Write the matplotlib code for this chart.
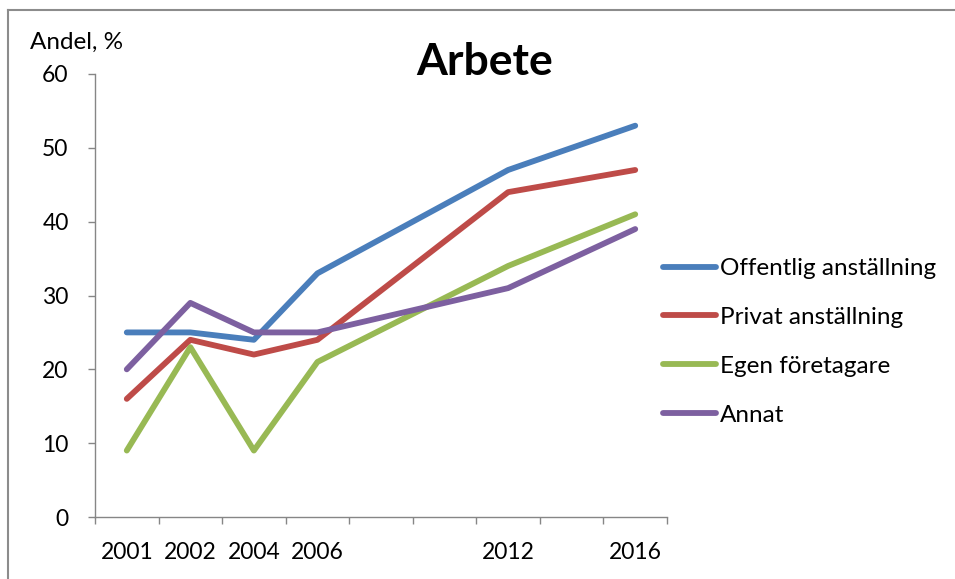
import numpy as np
import matplotlib
matplotlib.use("Agg")
import matplotlib.pyplot as plt
from matplotlib.lines import Line2D

plt.rcParams['font.family'] = ['Lato', 'DejaVu Sans']

categories = ["2001", "2002", "2004", "2006", "", "", "2012", "", "2016"]
offentlig = [25, 25, 24, 33, None, None, 47, None, 53]
privat = [16, 24, 22, 24, None, None, 44, None, 47]
egen = [9, 23, 9, 21, None, None, 34, None, 41]
annat = [20, 29, 25, 25, None, None, 31, None, 39]
series_names = ["Offentlig anställning", "Privat anställning", "Egen företagare", "Annat"]
colors = ["#4A7EBB", "#BE4B48", "#98B954", "#7D60A0"]
yticks = [0, 10, 20, 30, 40, 50, 60]

fig = plt.figure(figsize=(9.55, 5.79), dpi=100)
ax = fig.add_axes([95/955, 1-517/579, (667-95)/955, (517-74)/579])

x = np.arange(len(categories))
for vals, name, c in zip([offentlig, privat, egen, annat], series_names, colors):
    v = np.array([np.nan if a is None else a for a in vals], dtype=float)
    m = ~np.isnan(v)
    ax.plot(x[m], v[m], color=c, lw=4.2, solid_capstyle='round', solid_joinstyle='round', label=name)

ax.set_xlim(-0.5, len(categories) - 0.5)
ax.set_ylim(0, 60)
ax.set_yticks(yticks)
ax.set_xticks(np.arange(-0.5, len(categories)), labels=[""] * (len(categories) + 1))
ax.set_xticks(x, labels=categories, minor=True)
ax.tick_params(axis='x', which='major', length=5, width=1, color='#868686', direction='out')
ax.tick_params(axis='x', which='minor', length=0, pad=18, labelsize=16.5)
ax.tick_params(axis='y', length=5, width=1, color='#868686', direction='out', pad=14, labelsize=16.5)
for s in ['top', 'right']:
    ax.spines[s].set_visible(False)
for s in ['left', 'bottom']:
    ax.spines[s].set_color('#868686')
    ax.spines[s].set_linewidth(1)

fig.text(30/955, 1-42/579, "Andel, %", fontsize=17.5, ha='left', va='center')
fig.text(485/955, 1-62/579, "Arbete", fontsize=32, fontweight='bold', ha='center', va='center')

leg = fig.legend(loc='upper left', bbox_to_anchor=(663/955, 1-258/579), frameon=False,
                 fontsize=17.5, handlelength=2.2, handletextpad=0.15, labelspacing=1.15,
                 borderaxespad=0, borderpad=0)

# outer frame (top and left visible)
fig.add_artist(Line2D([7.5/955, 7.5/955], [0, 1-10/579], transform=fig.transFigure, color='#8c8c8c', lw=1.5))
fig.add_artist(Line2D([7.5/955, 1], [1-10/579, 1-10/579], transform=fig.transFigure, color='#8c8c8c', lw=1.5))

fig.savefig("out.png", dpi=100)
